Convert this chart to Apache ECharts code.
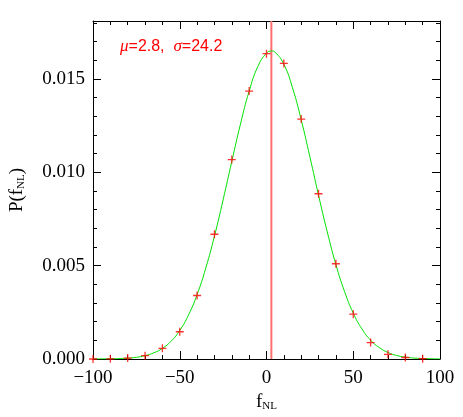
<!DOCTYPE html>
<html>
<head>
<meta charset="UTF-8"/>
<script src="https://cdn.jsdelivr.net/npm/echarts@6/dist/echarts.min.js"></script>
<style>html,body{margin:0;padding:0;background:#fff}#chart{width:463px;height:417px}</style>
</head>
<body>
<div id="chart"></div>
<script>
// curve
var curveX = [-100,-90,-80,-75,-70,-65,-60,-55,-50,-45,-40,-35,-30,-25,-20,-15,-10,-5,0,2.8,5,10,15,20,25,30,35,40,45,50,55,60,65,70,75,80,90,100];
var curveY = [0.000002,0.000011,0.000047,0.00009,0.00018,0.00033,0.00057,0.00095,0.00153,0.00235,0.00345,0.00487,0.00658,0.00853,0.01058,0.01258,0.01434,0.01566,0.01638,0.01649,0.01642,0.01578,0.01452,0.01281,0.01083,0.00877,0.00681,0.00506,0.00361,0.00246,0.00161,0.00101,0.00061,0.00035,0.00019,0.0001,0.000025,0.000005];
// histogram points
var binX = [-100,-90,-80,-70,-60,-50,-40,-30,-20,-10,0,10,20,30,40,50,60,70,80,90];
var binY = [0,0.00001,0.00005,0.00018,0.00057,0.00146,0.00340,0.00668,0.01068,0.01435,0.01635,0.01583,0.01285,0.00885,0.00510,0.00240,0.00088,0.00025,0.00008,0.00002];
var mu = 2.8, sigma = 24.2;

var font = 'Liberation Serif';
var chart = echarts.init(document.getElementById('chart'));
function axisBase(show) {
  return {
    axisLine: {show: true, onZero: false, lineStyle: {color: '#000', width: 1}},
    axisTick: {show: true, inside: true, length: 8, lineStyle: {color: '#000'}},
    minorTick: {show: true, splitNumber: 5, length: 4, lineStyle: {color: '#000'}},
    splitLine: {show: false},
    axisLabel: {show: show, color: '#000', fontFamily: font, fontSize: 19, showMaxLabel: false}
  };
}
var xb = Object.assign(axisBase(true), {type: 'value', min: -100, max: 100, interval: 50, position: 'bottom',
  name: '{m|f}{s|NL}', nameLocation: 'middle', nameGap: 34,
  nameTextStyle: {rich: {m: {fontFamily: font, fontSize: 19, color: '#000'}, s: {fontFamily: font, fontSize: 11, color: '#000', padding: [8,0,0,0]}}}});
xb.axisLabel.formatter = function (v) { return v < 0 ? '\u2212' + (-v) : '' + v; };
xb.axisLabel.margin = 10;
xb.axisLabel.showMaxLabel = true;
var xt = Object.assign(axisBase(false), {type: 'value', min: -100, max: 100, interval: 50, position: 'top'});
var yl = Object.assign(axisBase(true), {type: 'value', min: 0, max: 0.0181, interval: 0.005, position: 'left',
  name: '{m|P(f}{s|NL}{m|)}', nameLocation: 'middle', nameGap: 66,
  nameTextStyle: {rich: {m: {fontFamily: font, fontSize: 19, color: '#000'}, s: {fontFamily: font, fontSize: 11, color: '#000', padding: [8,0,0,0]}}}});
yl.axisLabel.formatter = function (v) { return v.toFixed(3); };
var yr = Object.assign(axisBase(false), {type: 'value', min: 0, max: 0.0181, interval: 0.005, position: 'right'});

chart.setOption({
  animation: false,
  grid: {left: 83, right: 23, top: 21, bottom: 55},
  xAxis: [xb, xt],
  yAxis: [yl, yr],
  graphic: [{type: 'text', left: 120, top: 38, style: {
    text: '{i|\u03bc}=2.8,  {i|\u03c3}=24.2', fill: '#ff0000', font: '16px Liberation Sans',
    rich: {i: {fontStyle: 'italic', fontFamily: 'Liberation Serif', fontSize: 17, fill: '#ff0000'}}}}],
  series: [
    {type: 'line', data: curveX.map(function (x, i) { return [x, curveY[i]]; }), smooth: true, showSymbol: false,
      lineStyle: {color: '#00e000', width: 1}, z: 2},
    {type: 'line', data: [[mu, 0], [mu, 0.0181]], showSymbol: false, lineStyle: {color: '#ff7070', width: 2}, z: 1},
    {type: 'scatter', data: binX.map(function (x, i) { return [x, binY[i]]; }),
      symbol: 'path://M0,5H10M5,0V10', symbolSize: 8,
      itemStyle: {color: 'none', borderColor: '#ff0000', borderWidth: 1.3}, z: 3}
  ]
});
</script>
</body>
</html>
